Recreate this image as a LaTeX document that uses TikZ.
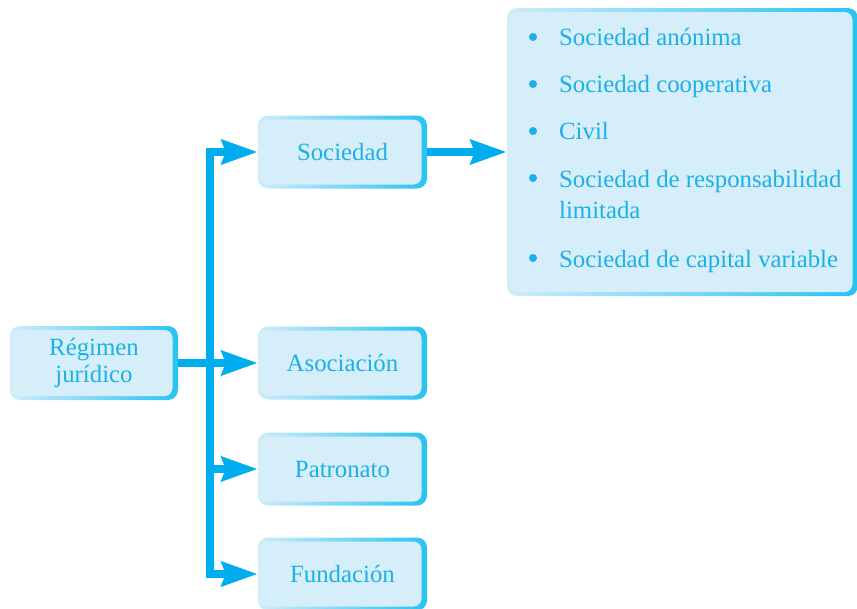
\documentclass[tikz,border=0pt]{standalone}
\usepackage{fontspec}
\setmainfont{Liberation Serif}
\usetikzlibrary{arrows.meta}
\definecolor{cy}{HTML}{00AEEF}
\definecolor{tx}{HTML}{1BB0E6}
\definecolor{bf}{HTML}{D6EEFA}
\definecolor{bl}{HTML}{CFECF9}
\definecolor{br}{HTML}{27C3F4}
\tikzset{
  gbox/.style={rounded corners=10pt, left color=bl, right color=br, text=tx,
    font=\fontsize{24.8}{27}\selectfont, align=center, inner sep=0pt,
    minimum width=169pt, minimum height=73pt,
    path picture={\fill[bf, rounded corners=8pt]
      ([shift={(0.5pt,-4pt)}]path picture bounding box.north west) rectangle
      ([shift={(-5.5pt,4pt)}]path picture bounding box.south east);}},
  itm/.style={anchor=base west, text=tx, inner sep=0pt, font=\fontsize{24.8}{27}\selectfont},
  ln/.style={cy, line width=8pt, line join=miter},
  arr/.style={ln, -{Stealth[length=36pt,width=24pt,inset=4pt]}},
}
\begin{document}
\begin{tikzpicture}[x=1pt,y=-1pt]
\useasboundingbox (0,0) rectangle (857,608);
\node[gbox, minimum height=74pt, minimum width=168pt] (reg) at (94,363) {Régimen\\jurídico};
\node[gbox] (soc) at (342.5,152) {Sociedad};
\node[gbox] (aso) at (342.5,363) {Asociación};
\node[gbox] (pat) at (342.5,469) {Patronato};
\node[gbox] (fun) at (342.5,574) {Fundación};
\node[gbox, minimum width=351pt, minimum height=288pt] (lst) at (682.5,152) {};
\coordinate (jm) at (210,363);
\draw[arr] (reg.east) -- (aso.west);
\draw[arr] (jm) |- (soc.west);
\draw[arr] (jm) |- (pat.west);
\draw[arr] (jm) |- (fun.west);
\draw[arr] (soc.east) -- (lst.west);
\foreach \y in {37,84,131,178,258} \fill[tx] (533,\y) circle (4pt);
\node[itm] (i1) at (559,45) {Sociedad anónima};
\node[itm] (i2) at (559,92) {Sociedad cooperativa};
\node[itm] (i3) at (559,139) {Civil};
\node[itm] (i4) at (559,187) {Sociedad de responsabilidad};
\node[itm] (i4b) at (559,218) {limitada};
\node[itm] (i5) at (559,267) {Sociedad de capital variable};
\end{tikzpicture}
\end{document}
